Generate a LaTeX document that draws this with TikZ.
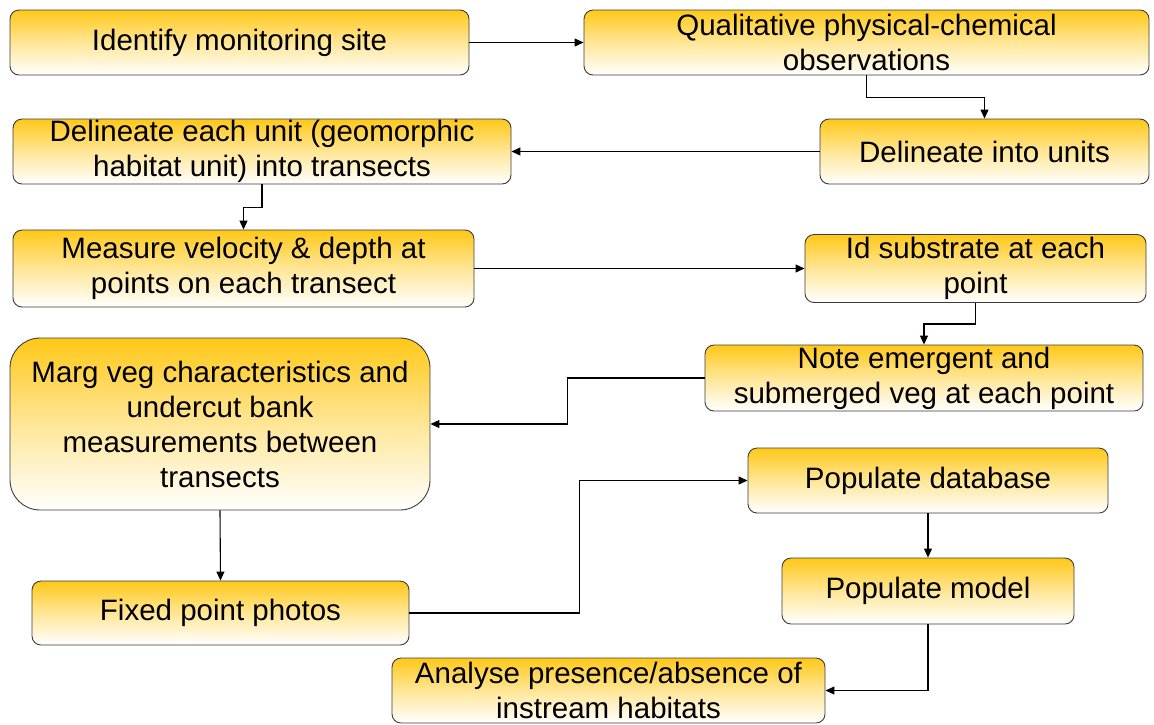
\documentclass[tikz,border=0pt]{standalone}
\usepackage{fontspec}
\setmainfont{Liberation Sans}
\usetikzlibrary{arrows.meta,calc}
\definecolor{boxgold}{RGB}{255,200,24}
\definecolor{boxline}{RGB}{60,60,60}
\tikzset{
  box/.style={draw=boxline, line width=0.9pt, rounded corners=9pt,
    top color=boxgold, bottom color=white, middle color=boxgold!45!white, inner sep=0pt, align=center,
    font=\fontsize{29.5}{35}\selectfont},
  arr/.style={draw=black, line width=1.1pt, -{Triangle[length=9pt,width=8pt]}}
}
\begin{document}
\begin{tikzpicture}[x=1pt,y=-1pt]
\useasboundingbox (0,0) rectangle (1154,724);
% boxes: centre, width, height
\node[box, minimum width=459, minimum height=65] (id) at (239.5,42.5) {Identify monitoring site};
\node[box, minimum width=565, minimum height=65] (q) at (866.5,42.5) {Qualitative physical-chemical\\observations};
\node[box, minimum width=329, minimum height=65] (u) at (984.5,151.5) {Delineate into units};
\node[box, minimum width=498, minimum height=65] (d) at (262,151.5) {Delineate each unit (geomorphic\\habitat unit) into transects};
\node[box, minimum width=461, minimum height=77] (mv) at (243.5,268.5) {Measure velocity \& depth at\\points on each transect};
\node[box, minimum width=341, minimum height=68] (s) at (975.5,268.5) {Id substrate at each\\point};
\node[box, minimum width=438, minimum height=66] (n) at (924,378) {Note emergent and\\submerged veg at each point};
\node[box, rounded corners=30pt, minimum width=420, minimum height=172] (m) at (220,424) {Marg veg characteristics and\\undercut bank\\measurements between\\transects};
\node[box, minimum width=377, minimum height=64] (f) at (220.5,613) {Fixed point photos};
\node[box, minimum width=360, minimum height=65] (db) at (928,480.5) {Populate database};
\node[box, minimum width=292, minimum height=66] (pm) at (928,591) {Populate model};
\node[box, minimum width=433, minimum height=65] (an) at (608.5,690.5) {Analyse presence/absence of\\instream habitats};
% connectors
\draw[arr] (id.east) -- (q.west);
\draw[arr] (q.south) -- ++(0,22) -| (u.north);
\draw[arr] (u.west) -- (d.east);
\draw[arr] (d.south) -- ++(0,23) -| (mv.north);
\draw[arr] (mv.east) -- (s.west);
\draw[arr] (s.south) -- ++(0,21) -| (n.north);
\draw[arr] (n.west) -- ++(-137,0) |- (m.east);
\draw[arr] (m.south) -- (f.north);
\draw[arr] (f.east) -- ++(170,0) |- (db.west);
\draw[arr] (db.south) -- (pm.north);
\draw[arr] (pm.south) |- (an.east);
\end{tikzpicture}
\end{document}
